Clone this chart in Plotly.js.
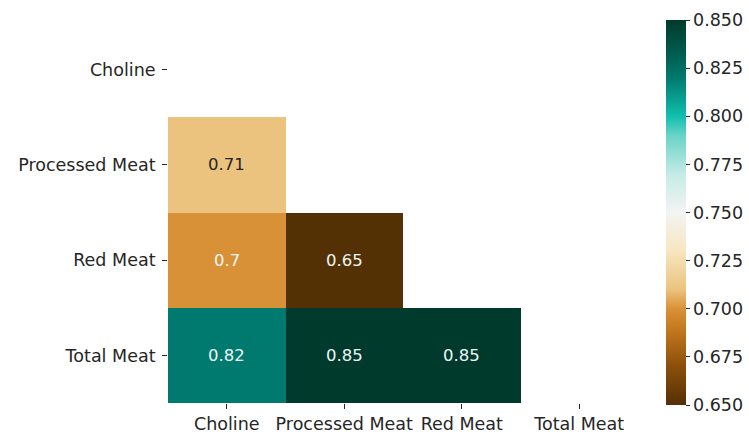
<!DOCTYPE html>
<html>
<head>
<meta charset="utf-8">
<script src="https://cdn.plot.ly/plotly-3.0.1.min.js"></script>
<style>html,body{margin:0;padding:0;background:#fff;}#chart{width:749px;height:435px;}</style>
</head>
<body>
<div id="chart"></div>
<script>
// Data
const categories = ["Choline", "Processed Meat", "Red Meat", "Total Meat"];
const rowCholine   = [null, null, null, null];
const rowProcessed = [0.71, null, null, null];
const rowRed       = [0.70, 0.65, null, null];
const rowTotal     = [0.82, 0.85, 0.85, null];
const colorTicks   = [0.650, 0.675, 0.700, 0.725, 0.750, 0.775, 0.800, 0.825, 0.850];
const zMin = 0.65, zMax = 0.85;

const z = [rowCholine, rowProcessed, rowRed, rowTotal];

const brbg = [
  [0.0, "#543005"],
  [0.1, "#8a4f0b"],
  [0.2, "#c67a1f"],
  [0.25, "#d99137"],
  [0.3, "#ebc37f"],
  [0.4, "#f7e6c0"],
  [0.5, "#f4f4f4"],
  [0.6, "#c4ebe5"],
  [0.7, "#6ad3c6"],
  [0.75, "#10bfae"],
  [0.85, "#00796e"],
  [0.92, "#005a4c"],
  [1.0, "#003a2c"]
];

const font = {family: "DejaVu Sans, sans-serif", size: 17.5, color: "#262626"};

const annotations = [];
z.forEach((row, i) => row.forEach((v, j) => {
  if (v === null) return;
  const dark = Math.abs(v - 0.75) < 0.05;
  annotations.push({
    x: categories[j], y: categories[i], xref: "x", yref: "y",
    text: String(v === 0.70 ? "0.7" : v),
    showarrow: false,
    font: {family: font.family, size: 16.5, color: dark ? "#262626" : "#eef6f4"}
  });
}));

const trace = {
  type: "heatmap",
  x: categories,
  y: categories,
  z: z,
  zmin: zMin, zmax: zMax,
  colorscale: brbg,
  hoverongaps: false,
  xgap: 0, ygap: 0,
  colorbar: {
    x: 1.0596, xanchor: "left", xref: "paper",
    y: 0.5, yanchor: "middle",
    len: 1.01, lenmode: "fraction",
    thickness: 20, thicknessmode: "pixels",
    outlinewidth: 0,
    tickvals: colorTicks,
    ticktext: colorTicks.map(t => t.toFixed(3)),
    ticks: "outside", ticklen: 4, tickwidth: 1, tickcolor: "#262626",
    tickfont: font,
    xpad: 0, ypad: 0
  }
};

const layout = {
  width: 749, height: 435,
  margin: {l: 168, r: 111, t: 22, b: 32, pad: 0, autoexpand: false},
  paper_bgcolor: "#ffffff", plot_bgcolor: "#ffffff",
  font: font,
  xaxis: {
    type: "category", categoryarray: categories, range: [-0.5, 3.5],
    showgrid: false, zeroline: false, showline: false,
    ticks: "outside", ticklen: 5, tickwidth: 1, tickcolor: "#262626",
    tickfont: font, fixedrange: true
  },
  yaxis: {
    type: "category", categoryarray: categories, range: [3.5, -0.5],
    showgrid: false, zeroline: false, showline: false,
    ticks: "outside", ticklen: 5, tickwidth: 1, tickcolor: "#262626",
    ticklabelstandoff: 3,
    tickfont: font, fixedrange: true
  },
  annotations: annotations,
  showlegend: false
};

Plotly.newPlot("chart", [trace], layout, {displayModeBar: false, staticPlot: true});
</script>
</body>
</html>
